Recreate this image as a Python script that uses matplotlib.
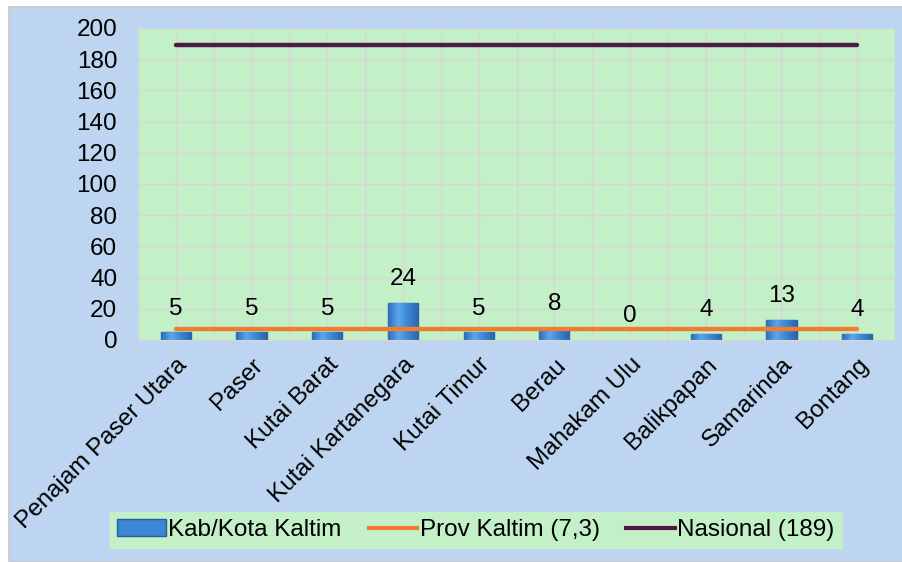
import numpy as np
import matplotlib.pyplot as plt
from matplotlib.patches import Rectangle, Patch
from matplotlib.lines import Line2D
from matplotlib.colors import LinearSegmentedColormap

plt.rcParams['font.family'] = ['Liberation Sans', 'DejaVu Sans']

kabkota = ["Penajam Paser Utara", "Paser", "Kutai Barat", "Kutai Kartanegara",
           "Kutai Timur", "Berau", "Mahakam Ulu", "Balikpapan", "Samarinda", "Bontang"]
nilai = [5, 5, 5, 24, 5, 8, 0, 4, 13, 4]
prov_kaltim = 7.3
nasional = 189
yticks = [0, 20, 40, 60, 80, 100, 120, 140, 160, 180, 200]

blue_bg = '#BDD5F0'
green_bg = '#C4F0C8'
grid_c = '#D6D6D6'
fs = 17.5

fig = plt.figure(figsize=(9.02, 5.62), dpi=100)
fig.patch.set_facecolor('white')
fig.patches.append(Rectangle((9 / 902, 0), 1, 1 - 7 / 562, transform=fig.transFigure,
                             facecolor=blue_bg, edgecolor='#C8C8C8', lw=1.2, zorder=-10))

ax = fig.add_axes([138 / 902, 1 - 340 / 562, (895 - 138) / 902, (340 - 28) / 562])
ax.set_facecolor(green_bg)

x = np.arange(len(kabkota))

# grid
for gx in np.arange(-0.5, len(kabkota), 0.5):
    ax.axvline(gx, color=grid_c, lw=1, zorder=0)
for gy in yticks:
    ax.axhline(gy, color=grid_c, lw=1, zorder=0)

# bars with a simple gradient
bars = ax.bar(x, nilai, width=0.4, color='#3C86D4', edgecolor='#2A5F9E', lw=1, zorder=2)
grad = np.linspace(0, 1, 64).reshape(1, -1)
cmap = LinearSegmentedColormap.from_list('b', ['#2E6DB8', '#5AA6EE', '#3A84D2', '#2A64AA'])
for b in bars:
    if b.get_height() <= 0:
        b.set_linewidth(0)
        continue
    im = ax.imshow(grad, cmap=cmap, aspect='auto', zorder=2.1,
                   extent=(b.get_x(), b.get_x() + b.get_width(), 0, b.get_height()))
    im.set_clip_path(b)
ax.set_xlim(-0.5, len(kabkota) - 0.5)
ax.set_ylim(0, 200)

for xi, v in zip(x, nilai):
    ax.annotate(str(v), (xi, v), xytext=(0, 9), textcoords='offset points',
                ha='center', va='bottom', fontsize=fs)

ax.plot(x, [prov_kaltim] * len(x), color='#ED7D31', lw=3.2, solid_capstyle='round', zorder=3)
ax.plot(x, [nasional] * len(x), color='#4E1A47', lw=3.2, solid_capstyle='round', zorder=3)

ax.set_yticks(yticks)
ax.set_xticks(x)
ax.set_xticklabels(kabkota, rotation=45, ha='right', rotation_mode='anchor', fontsize=fs)
ax.tick_params(axis='both', length=0, labelsize=fs)
ax.tick_params(axis='y', pad=15)
ax.tick_params(axis='x', pad=10)
for s in ax.spines.values():
    s.set_visible(False)
ax.spines['bottom'].set_visible(True)
ax.spines['bottom'].set_color(grid_c)

handles = [Patch(facecolor='#3C86D4', edgecolor='#2A5F9E'),
           Line2D([], [], color='#ED7D31', lw=3),
           Line2D([], [], color='#4E1A47', lw=3)]
labels = ['Kab/Kota Kaltim', 'Prov Kaltim (7,3)', 'Nasional (189)']
leg = fig.legend(handles, labels, loc='center', bbox_to_anchor=(476 / 902, 1 - 530 / 562),
                 ncol=3, frameon=True, fontsize=fs, handlelength=2.0, handletextpad=0.1,
                 columnspacing=1.1, borderpad=0.3, fancybox=False)
leg.get_frame().set_facecolor(green_bg)
leg.get_frame().set_edgecolor(green_bg)
leg.get_frame().set_alpha(1)

fig.savefig('out.png', dpi=100, facecolor=fig.get_facecolor())
